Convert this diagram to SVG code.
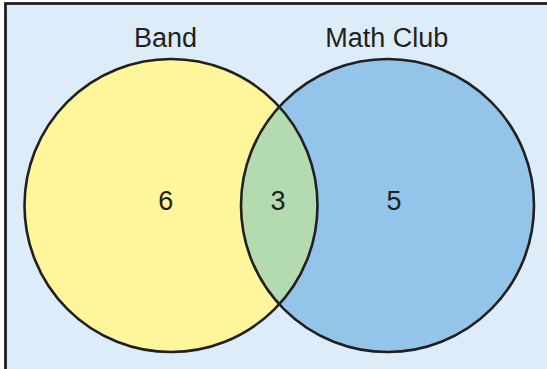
<svg xmlns="http://www.w3.org/2000/svg" width="547" height="369" viewBox="0 0 547 369">
  <style>
    .lbl { font-family: "Liberation Sans", Arial, sans-serif; font-size: 27px; fill: #231f20; text-anchor: middle; }
    .ring { fill: none; stroke: #231f20; stroke-width: 2.6; }
  </style>
  <defs>
    <clipPath id="clipBand"><circle cx="171" cy="205.5" r="146.5"/></clipPath>
  </defs>
  <rect id="frame" x="5.5" y="3.5" width="560" height="380" fill="#dcedf9" stroke="#231f20" stroke-width="2.8"/>
  <g id="band">
    <circle cx="171" cy="205.5" r="146.5" fill="#fff59a"/>
  </g>
  <g id="mathclub">
    <circle cx="387.5" cy="205.5" r="146.5" fill="#92c5e9"/>
  </g>
  <g id="overlap">
    <circle cx="387.5" cy="205.5" r="146.5" fill="#b4dbb0" clip-path="url(#clipBand)"/>
  </g>
  <g id="outlines">
    <circle class="ring" cx="171" cy="205.5" r="146.5"/>
    <circle class="ring" cx="387.5" cy="205.5" r="146.5"/>
  </g>
  <g id="labels">
    <text class="lbl" x="165.5" y="46.7">Band</text>
    <text class="lbl" x="386.7" y="46.7">Math Club</text>
    <text class="lbl" x="165.8" y="210">6</text>
    <text class="lbl" x="278" y="210">3</text>
    <text class="lbl" x="394" y="210">5</text>
  </g>
</svg>
